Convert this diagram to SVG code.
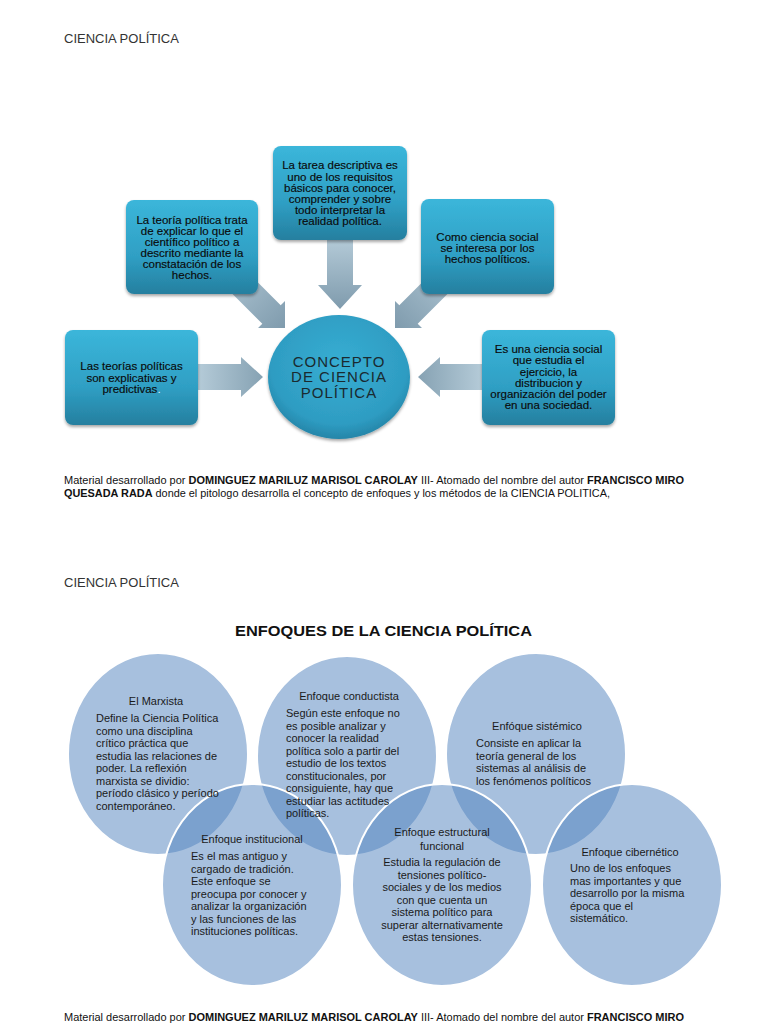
<svg xmlns="http://www.w3.org/2000/svg" width="768" height="1024" viewBox="0 0 768 1024">
<defs>
<linearGradient id="boxg" x1="0" y1="0" x2="0" y2="1">
<stop offset="0" stop-color="#3bb6da"/>
<stop offset="0.6" stop-color="#2f9fc4"/>
<stop offset="1" stop-color="#257f9f"/>
</linearGradient>
<radialGradient id="circg" cx="0.5" cy="0.4" r="0.6">
<stop offset="0" stop-color="#37aed3"/>
<stop offset="0.8" stop-color="#2e9cc2"/>
<stop offset="1" stop-color="#2585a8"/>
</radialGradient>
<linearGradient id="arrV" x1="0" y1="0" x2="0" y2="1">
<stop offset="0" stop-color="#b6ccd9"/>
<stop offset="1" stop-color="#7f9bad"/>
</linearGradient>
<linearGradient id="arrR" x1="0" y1="0" x2="1" y2="0">
<stop offset="0" stop-color="#b6ccd9"/>
<stop offset="1" stop-color="#86a2b3"/>
</linearGradient>
<linearGradient id="arrL" x1="1" y1="0" x2="0" y2="0">
<stop offset="0" stop-color="#b6ccd9"/>
<stop offset="1" stop-color="#86a2b3"/>
</linearGradient>
<linearGradient id="arrDR" x1="0" y1="0" x2="1" y2="1">
<stop offset="0" stop-color="#b6ccd9"/>
<stop offset="1" stop-color="#7f9bad"/>
</linearGradient>
<linearGradient id="arrDL" x1="1" y1="0" x2="0" y2="1">
<stop offset="0" stop-color="#b6ccd9"/>
<stop offset="1" stop-color="#7f9bad"/>
</linearGradient>
<filter id="sh" x="-10%" y="-10%" width="120%" height="130%">
<feDropShadow dx="0" dy="2" stdDeviation="1.5" flood-color="#000" flood-opacity="0.35"/>
</filter>
</defs>
<style>
.hdr{font-family:"Liberation Sans",Arial,sans-serif;font-size:13px;fill:#333}
.box{fill:url(#boxg);filter:url(#sh)}
.bt{font-family:"Liberation Sans",Arial,sans-serif;font-size:11.5px;fill:#0a0a0a;stroke:#0a0a0a;stroke-width:0.15;text-anchor:middle}
.ct{font-family:"Liberation Sans",Arial,sans-serif;font-size:15px;letter-spacing:1px;fill:#1a2a30;text-anchor:middle}
.para{font-family:"Liberation Sans",Arial,sans-serif;font-size:11px;fill:#111}
.b{font-weight:bold}
.title{font-family:"Liberation Sans",Arial,sans-serif;font-size:15px;font-weight:bold;fill:#111;text-anchor:middle}
.ell{fill:#4f81bd;fill-opacity:0.5;stroke:#fff;stroke-width:2}
.et{font-family:"Liberation Sans",Arial,sans-serif;font-size:11px;fill:#1a1a1a}
.etm{font-family:"Liberation Sans",Arial,sans-serif;font-size:11px;fill:#1a1a1a;text-anchor:middle}
</style>
<rect width="768" height="1024" fill="#fff"/>

<text class="hdr" x="64" y="43">CIENCIA POLÍTICA</text>

<g id="connectors">
<path d="M327,236 H353 V285 H362 L340,309 L318,285 H327 Z" fill="url(#arrV)"/>
<path d="M196,364 H241 V357 L263,377 L241,397 V390 H196 Z" fill="url(#arrR)"/>
<path d="M484,364 H440 V357 L418,377 L440,397 V390 H484 Z" fill="url(#arrL)"/>
<path d="M235.2,259.8 L280.7,305.3 L285,301 L285,328 L258,328 L262.3,323.7 L216.8,278.2 Z" fill="url(#arrDR)"/>
<path d="M444.8,259.8 L399.3,305.3 L395,301 L395,328 L422,328 L417.7,323.7 L463.2,278.2 Z" fill="url(#arrDL)"/>
</g>

<g id="box-teoria">
<rect class="box" x="126" y="200" width="132" height="94" rx="8"/>
<text class="bt"><tspan x="192" y="224">La teoría política trata</tspan><tspan x="192" y="235">de explicar lo que el</tspan><tspan x="192" y="246">científico político a</tspan><tspan x="192" y="257">descrito mediante la</tspan><tspan x="192" y="268">constatación de los</tspan><tspan x="192" y="279">hechos.</tspan></text>
</g>
<g id="box-tarea">
<rect class="box" x="273" y="146" width="134" height="94" rx="8"/>
<text class="bt"><tspan x="340" y="169">La tarea descriptiva es</tspan><tspan x="340" y="180.5">uno de los requisitos</tspan><tspan x="340" y="191.5">básicos para conocer,</tspan><tspan x="340" y="203">comprender y sobre</tspan><tspan x="340" y="214">todo interpretar la</tspan><tspan x="340" y="225">realidad política.</tspan></text>
</g>
<g id="box-como">
<rect class="box" x="421" y="199" width="133" height="95" rx="8"/>
<text class="bt"><tspan x="487.5" y="240.5">Como ciencia social</tspan><tspan x="487.5" y="251.5">se interesa por los</tspan><tspan x="487.5" y="262.5">hechos políticos.</tspan></text>
</g>
<g id="box-teorias">
<rect class="box" x="65" y="330" width="133" height="95" rx="8"/>
<text class="bt"><tspan x="131.5" y="370">Las teorías políticas</tspan><tspan x="131.5" y="381.5">son explicativas y</tspan><tspan x="131.5" y="393">predictivas<tspan fill="#e8f4f8" stroke="none">.</tspan></tspan></text>
</g>
<g id="box-es">
<rect class="box" x="482" y="330" width="133" height="95" rx="8"/>
<text class="bt"><tspan x="548.5" y="353">Es una ciencia social</tspan><tspan x="548.5" y="364">que estudia el</tspan><tspan x="548.5" y="375.5">ejercicio, la</tspan><tspan x="548.5" y="386.5">distribucion y</tspan><tspan x="548.5" y="398">organización del poder</tspan><tspan x="548.5" y="409">en una sociedad.</tspan></text>
</g>
<g id="concepto">
<ellipse cx="339" cy="377" rx="71" ry="62" fill="url(#circg)" filter="url(#sh)"/>
<text class="ct"><tspan x="339" y="366.5">CONCEPTO</tspan><tspan x="339" y="382">DE CIENCIA</tspan><tspan x="339" y="397.5">POLÍTICA</tspan></text>
</g>

<text class="para" x="64" y="484" textLength="620" lengthAdjust="spacingAndGlyphs">Material desarrollado por <tspan class="b">DOMINGUEZ MARILUZ MARISOL CAROLAY</tspan> III- Atomado del nombre del autor <tspan class="b">FRANCISCO MIRO</tspan></text>
<text class="para" x="64" y="497" textLength="546" lengthAdjust="spacingAndGlyphs"><tspan class="b">QUESADA RADA</tspan> donde el pitologo desarrolla el concepto de enfoques y los métodos de la CIENCIA POLITICA,</text>

<text class="hdr" x="64" y="587">CIENCIA POLÍTICA</text>
<text class="title" x="383.5" y="636" textLength="297" lengthAdjust="spacingAndGlyphs">ENFOQUES DE LA CIENCIA POLÍTICA</text>

<g id="ellipses">
<ellipse id="e-marxista" class="ell" cx="158" cy="754" rx="90" ry="101"/>
<ellipse id="e-conductista" class="ell" cx="347" cy="756" rx="90" ry="100"/>
<ellipse id="e-sistemico" class="ell" cx="536" cy="754" rx="90" ry="101"/>
<ellipse id="e-institucional" class="ell" cx="252" cy="885" rx="90" ry="101"/>
<ellipse id="e-estructural" class="ell" cx="442" cy="885" rx="90" ry="101"/>
<ellipse id="e-cibernetico" class="ell" cx="632" cy="885" rx="90" ry="101"/>
</g>

<g id="marxista">
<text class="etm" x="156" y="705">El Marxista</text>
<text class="et"><tspan x="96" y="722">Define la Ciencia Política</tspan><tspan x="96" y="734.5">como una disciplina</tspan><tspan x="96" y="747">crítico práctica que</tspan><tspan x="96" y="759.5">estudia las relaciones de</tspan><tspan x="96" y="772">poder. La reflexión</tspan><tspan x="96" y="784.5">marxista se dividio:</tspan><tspan x="96" y="797">período clásico y período</tspan><tspan x="96" y="809.5">contemporáneo.</tspan></text>
</g>
<g id="conductista">
<text class="etm" x="349" y="700">Enfoque conductista</text>
<text class="et"><tspan x="286" y="717">Según este enfoque no</tspan><tspan x="286" y="729.5">es posible analizar y</tspan><tspan x="286" y="742">conocer la realidad</tspan><tspan x="286" y="754.5">política solo a partir del</tspan><tspan x="286" y="767">estudio de los textos</tspan><tspan x="286" y="779.5">constitucionales, por</tspan><tspan x="286" y="792">consiguiente, hay que</tspan><tspan x="286" y="804.5">estudiar las actitudes</tspan><tspan x="286" y="817">políticas.</tspan></text>
</g>
<g id="sistemico">
<text class="etm" x="537" y="730">Enfóque sistémico</text>
<text class="et"><tspan x="476" y="747">Consiste en aplicar la</tspan><tspan x="476" y="759.5">teoría general de los</tspan><tspan x="476" y="772">sistemas al análisis de</tspan><tspan x="476" y="784.5">los fenómenos políticos</tspan></text>
</g>
<g id="institucional">
<text class="etm" x="252" y="843">Enfoque institucional</text>
<text class="et"><tspan x="191" y="860">Es el mas antiguo y</tspan><tspan x="191" y="872.5">cargado de tradición.</tspan><tspan x="191" y="885">Este enfoque se</tspan><tspan x="191" y="897.5">preocupa por conocer y</tspan><tspan x="191" y="910">analizar la organización</tspan><tspan x="191" y="922.5">y las funciones de las</tspan><tspan x="191" y="935">instituciones políticas.</tspan></text>
</g>
<g id="estructural">
<text class="etm"><tspan x="442" y="836">Enfoque estructural</tspan><tspan x="442" y="849.5">funcional</tspan></text>
<text class="etm"><tspan x="442" y="866">Estudia la regulación de</tspan><tspan x="442" y="878.5">tensiones político-</tspan><tspan x="442" y="891">sociales y de los medios</tspan><tspan x="442" y="903.5">con que cuenta un</tspan><tspan x="442" y="916">sistema político para</tspan><tspan x="442" y="928.5">superar alternativamente</tspan><tspan x="442" y="941">estas tensiones.</tspan></text>
</g>
<g id="cibernetico">
<text class="etm" x="630" y="856">Enfoque cibernético</text>
<text class="et"><tspan x="570" y="872">Uno de los enfoques</tspan><tspan x="570" y="884.5">mas importantes y que</tspan><tspan x="570" y="897">desarrollo por la misma</tspan><tspan x="570" y="909.5">época que el</tspan><tspan x="570" y="922">sistemático.</tspan></text>
</g>

<text class="para" x="64" y="1021" textLength="620" lengthAdjust="spacingAndGlyphs">Material desarrollado por <tspan class="b">DOMINGUEZ MARILUZ MARISOL CAROLAY</tspan> III- Atomado del nombre del autor <tspan class="b">FRANCISCO MIRO</tspan></text>
</svg>
